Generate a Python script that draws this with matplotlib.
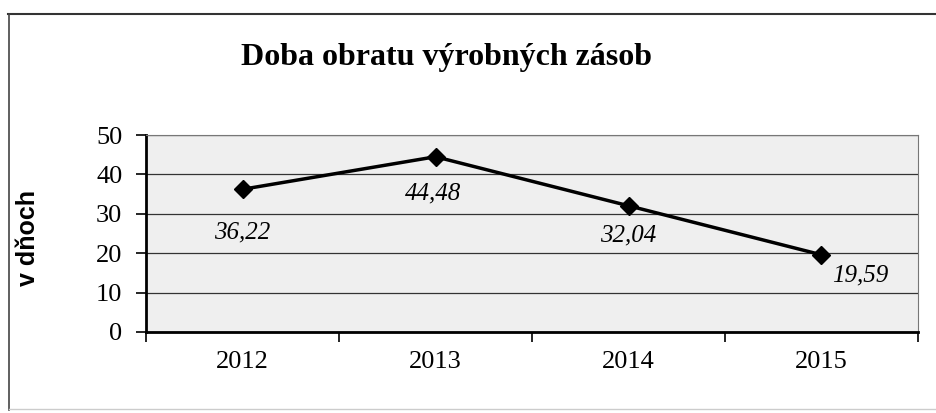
import matplotlib.pyplot as plt
from matplotlib.lines import Line2D

years = ["2012", "2013", "2014", "2015"]
days = [36.22, 44.48, 32.04, 19.59]
labels = ["36,22", "44,48", "32,04", "19,59"]
# label offsets in pixels (dx, dy) from each point
offsets = [(0, -43), (-2, -37), (0, -30), (39, -21)]

fig = plt.figure(figsize=(9.37, 4.13), dpi=100)
ax = fig.add_axes([146 / 937, 1 - 332 / 413, 772 / 937, 197 / 413])

x = list(range(len(years)))
ax.set_facecolor("#efefef")
ax.plot(x, days, color="black", lw=2.5, marker="D", markersize=9, zorder=3)

for xi, yi, lab, off in zip(x, days, labels, offsets):
    ax.annotate(lab, (xi, yi), xytext=off, textcoords="offset pixels",
                ha="center", va="center", family="Liberation Serif",
                style="italic", fontsize=18, zorder=4)

ax.set_xlim(-0.5, 3.5)
ax.set_ylim(0, 50)
ax.set_yticks(range(0, 51, 10))
ax.set_xticks(x)
ax.set_xticklabels(years)
ax.set_xticks([-0.5, 0.5, 1.5, 2.5, 3.5], minor=True)
ax.tick_params(axis="x", which="major", length=0, pad=14)
ax.tick_params(axis="x", which="minor", length=7, width=1.2, direction="out")
ax.tick_params(axis="y", length=7, width=1.2, direction="out", pad=10)
for lab in ax.get_xticklabels() + ax.get_yticklabels():
    lab.set_family("Liberation Serif")
    lab.set_fontsize(19)

ax.yaxis.grid(True, color="#333333", lw=0.9)
ax.set_axisbelow(True)
ax.spines["left"].set_linewidth(2)
ax.spines["bottom"].set_linewidth(2)
ax.spines["top"].set_color("#777777")
ax.spines["right"].set_color("#777777")

fig.text(28 / 937, 1 - 238 / 413, "v dňoch", family="Liberation Sans",
         fontweight="bold", fontsize=18, rotation=90, ha="center", va="center")

fig.text(447 / 937, 1 - 58 / 413, "Doba obratu výrobných zásob",
         family="Liberation Serif", fontweight="bold", fontsize=23,
         ha="center", va="center")

# outer frame of the chart object
fig.add_artist(Line2D([8 / 937, 1], [1 - 14 / 413, 1 - 14 / 413],
                      transform=fig.transFigure, color="#333333", lw=1.5))
fig.add_artist(Line2D([9 / 937, 9 / 937], [1 - 14 / 413, 1 - 410 / 413],
                      transform=fig.transFigure, color="#444444", lw=1.2))
fig.add_artist(Line2D([9 / 937, 1], [1 - 409 / 413, 1 - 409 / 413],
                      transform=fig.transFigure, color="#cccccc", lw=1))

fig.savefig("out.png", dpi=100)
